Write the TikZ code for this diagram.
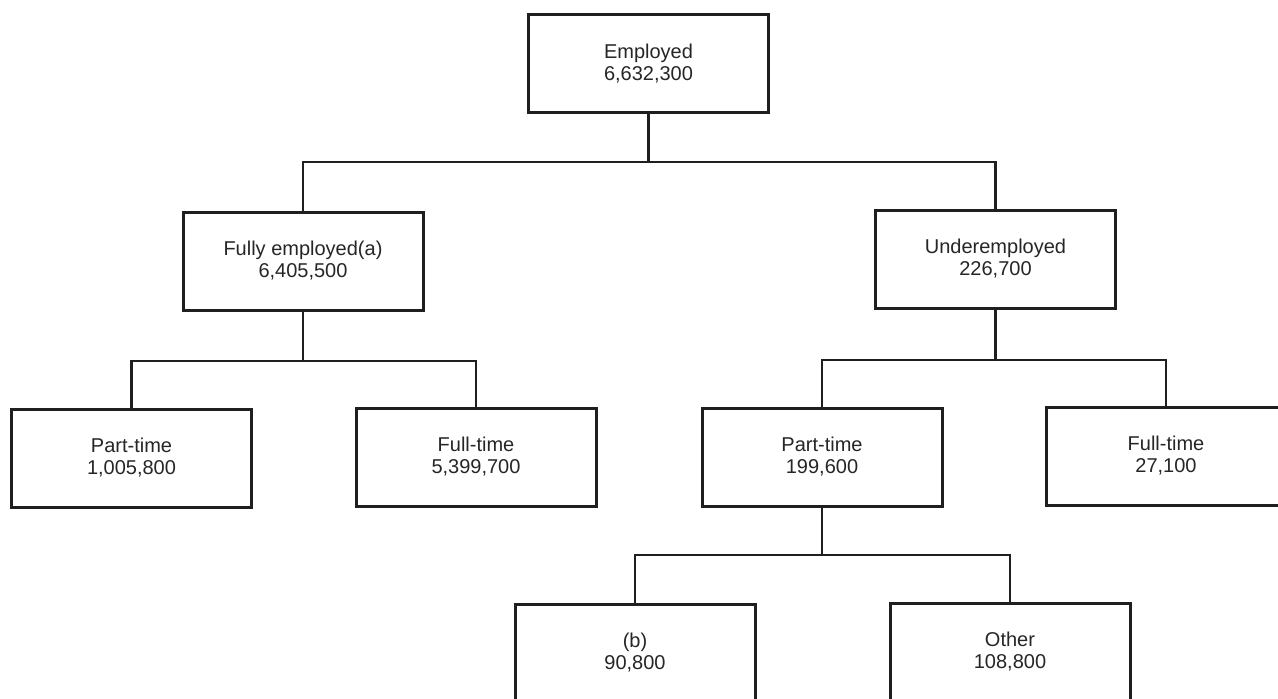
\documentclass[tikz,border=0pt]{standalone}
\usepackage{fontspec}
\setmainfont{Liberation Sans}
\begin{document}
\begin{tikzpicture}[x=1pt,y=-1pt,
  box/.style={draw=black!88, line width=3pt, minimum width=240pt, minimum height=98pt,
    align=center, inner sep=0pt, text=black!85, font=\fontsize{20}{22}\selectfont},
  conn/.style={draw=black!88, line width=2.8pt}]
\useasboundingbox (0,0) rectangle (1278,699);
\clip (0,0) rectangle (1278,699);
\fill[white] (0,0) rectangle (1278,699);
\node[box] (emp) at (648.5,63.5) {Employed\\6,632,300};
\node[box] (full) at (303,261) {Fully employed(a)\\6,405,500};
\node[box] (under) at (995.5,259) {Underemployed\\226,700};
\node[box] (pt1) at (131.5,458) {Part-time\\1,005,800};
\node[box] (ft1) at (476,457) {Full-time\\5,399,700};
\node[box] (pt2) at (822,457) {Part-time\\199,600};
\node[box] (ft2) at (1166,456) {Full-time\\27,100};
\node[box] (b) at (635,653) {(b)\\90,800};
\node[box] (oth) at (1010,652) {Other\\108,800};
\coordinate (j1) at (648.5,162);
\coordinate (j2) at (303,361);
\coordinate (j3) at (995.5,360);
\coordinate (j4) at (822,555);
\draw[conn] (emp.south) -- (j1);
\draw[conn] (full.north) |- (j1) -| (under.north);
\draw[conn] (full.south) -- (j2);
\draw[conn] (pt1.north) |- (j2) -| (ft1.north);
\draw[conn] (under.south) -- (j3);
\draw[conn] (pt2.north) |- (j3) -| (ft2.north);
\draw[conn] (pt2.south) -- (j4);
\draw[conn] (b.north) |- (j4) -| (oth.north);
\end{tikzpicture}
\end{document}
